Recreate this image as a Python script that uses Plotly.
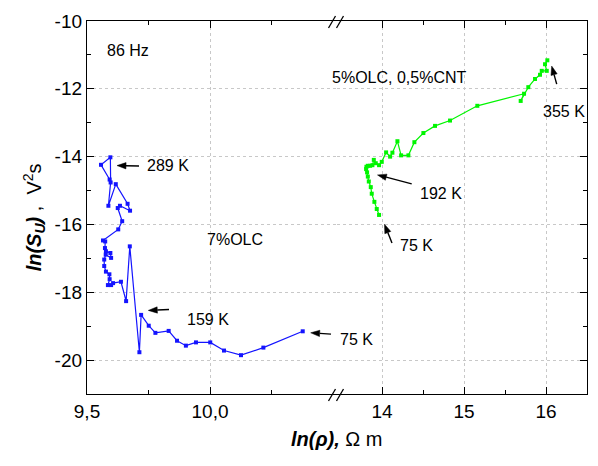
import math
import plotly.graph_objects as go

# ---- data: 7%OLC (blue, left segment of broken x axis) ----
blue_x = [9.592, 9.557, 9.595, 9.596, 9.587, 9.617, 9.665, 9.675, 9.634, 9.625,
          9.643, 9.627, 9.565, 9.574, 9.573, 9.577, 9.595, 9.598, 9.576, 9.570,
          9.570, 9.577, 9.591, 9.592, 9.585, 9.598, 9.606, 9.638, 9.659, 9.674,
          9.713, 9.720, 9.751, 9.778, 9.832, 9.866, 9.902, 9.943, 10.001, 10.057,
          10.126, 10.217, 10.377]
blue_y = [-14.675, -14.241, -14.020, -14.762, -15.449, -14.812, -15.391, -15.594, -15.449, -15.516,
          -15.904, -16.145, -16.472, -16.501, -16.696, -16.791, -16.841, -16.986, -16.890, -17.035,
          -17.226, -17.391, -17.470, -17.614, -17.788, -17.788, -17.730, -17.690, -18.261, -16.646,
          -19.768, -18.667, -18.986, -19.197, -19.139, -19.429, -19.574, -19.478, -19.478, -19.719,
          -19.855, -19.632, -19.151]

# ---- data: 5%OLC, 0,5%CNT (green, right segment) ----
green_x = [13.963, 13.935, 13.906, 13.874, 13.862, 13.838, 13.826, 13.817, 13.805, 13.809,
           13.826, 13.854, 13.882, 13.899, 13.923, 13.963, 13.996, 14.049, 14.098, 14.126,
           14.187, 14.232, 14.321, 14.394, 14.504, 14.646, 14.829, 15.162, 15.732, 15.691,
           15.784, 15.866, 15.927, 15.948, 16.009, 15.988, 16.016]
green_y = [-15.719, -15.545, -15.333, -15.093, -14.899, -14.733, -14.588, -14.464, -14.368, -14.299,
           -14.270, -14.270, -14.252, -14.096, -14.194, -14.252, -14.154, -13.875, -14.000, -13.884,
           -13.545, -13.962, -13.962, -13.574, -13.304, -13.093, -12.936, -12.501, -12.145, -12.357,
           -11.951, -11.710, -11.586, -11.470, -11.470, -11.275, -11.159]

y_tickvals = [-10, -12, -14, -16, -18, -20]
y_ticktext = ["-10", "-12", "-14", "-16", "-18", "-20"]
y_minor = [-11, -13, -15, -17, -19]
x1_tickvals = [9.5, 10.0]
x1_ticktext = ["9,5", "10,0"]
x1_minor = [9.75, 10.25]
x2_tickvals = [14, 15, 16]
x2_ticktext = ["14", "15", "16"]
x2_minor = [14.5, 15.5]

FONT = "Arial, 'Liberation Sans', sans-serif"
W, H = 598, 466
L, R, T, B = 87, 11, 16, 72
PW, PH = W - L - R, H - T - B


def px(x):
    return (x - L) / PW


def py(y):
    return (H - B - y) / PH


fig = go.Figure()
fig.add_trace(go.Scatter(x=blue_x, y=blue_y, xaxis="x", yaxis="y", mode="lines+markers",
                         line=dict(color="rgb(20,20,255)", width=1.2),
                         marker=dict(symbol="square", size=4, color="rgb(20,20,255)"),
                         showlegend=False))
fig.add_trace(go.Scatter(x=green_x, y=green_y, xaxis="x2", yaxis="y2", mode="lines+markers",
                         line=dict(color="rgb(0,245,0)", width=1.2),
                         marker=dict(symbol="square", size=4, color="rgb(0,245,0)"),
                         showlegend=False))

common_ax = dict(showline=True, linecolor="black", linewidth=1.3, ticks="inside", ticklen=7,
                 tickcolor="black", tickwidth=1.2, showgrid=True, gridcolor="#c8c8c8",
                 griddash="dot", gridwidth=1, zeroline=False,
                 tickfont=dict(family=FONT, size=19, color="black"))

fig.update_layout(
    width=W, height=H,
    margin=dict(l=L, r=R, t=T, b=B),
    plot_bgcolor="white", paper_bgcolor="white",
    xaxis=dict(domain=[0, 0.5], range=[9.5, 10.5163], anchor="y", mirror="ticks",
               tickmode="array", tickvals=x1_tickvals, ticktext=x1_ticktext,
               minor=dict(tickmode="array", tickvals=x1_minor, ticks="inside", ticklen=4,
                          tickcolor="black", showgrid=False),
               **common_ax),
    xaxis2=dict(domain=[0.5, 1], range=[13.45, 16.5], anchor="y2", mirror="ticks",
                tickmode="array", tickvals=x2_tickvals, ticktext=x2_ticktext,
                minor=dict(tickmode="array", tickvals=x2_minor, ticks="inside", ticklen=4,
                           tickcolor="black", showgrid=False),
                **common_ax),
    yaxis=dict(domain=[0, 1], range=[-21, -10], anchor="x", mirror=False,
               tickmode="array", tickvals=y_tickvals, ticktext=y_ticktext,
               minor=dict(tickmode="array", tickvals=y_minor, ticks="inside", ticklen=4,
                          tickcolor="black", showgrid=False),
               **common_ax),
    yaxis2=dict(domain=[0, 1], range=[-21, -10], anchor="x2", side="right", mirror=False,
                tickmode="array", tickvals=y_tickvals, showticklabels=False,
                minor=dict(tickmode="array", tickvals=y_minor, ticks="inside", ticklen=4,
                           tickcolor="black", showgrid=False),
                **common_ax),
)

# axis break marks "//" at bottom and top
for yanc in (0, 1):
    for (x0, y0, x1, y1) in [(-8.5, -7, -1.5, 5), (-0.5, -7, 6.5, 5)]:
        fig.add_shape(type="line", xref="paper", yref="paper", xsizemode="pixel",
                      ysizemode="pixel", xanchor=0.5, yanchor=yanc,
                      x0=x0, y0=y0, x1=x1, y1=y1, line=dict(color="black", width=1.3))

# text labels
texts = [
    ("86 Hz", 128, 46),
    ("5%OLC, 0,5%CNT", 399, 73),
    ("355 K", 564, 108),
    ("289 K", 168, 162),
    ("192 K", 441, 191),
    ("75 K", 416, 244),
    ("7%OLC", 235, 237),
    ("159 K", 208, 318),
    ("75 K", 356, 339),
]
for t, x, y in texts:
    fig.add_annotation(text=t, x=px(x), y=py(y), xref="paper", yref="paper",
                       showarrow=False, xanchor="center", yanchor="middle",
                       font=dict(family=FONT, size=16, color="black"))

# arrows drawn as shapes: (head_x, head_y, tail_x, tail_y) in pixels
arrows = [
    (117, 162.5, 139, 163),
    (377.5, 172, 411.7, 181),
    (384.5, 222, 392, 241),
    (148.3, 309.3, 169, 308.3),
    (310.7, 332, 331, 333.3),
    (551.7, 61.7, 556.7, 80),
]
HL, HW = 9.0, 3.2
for hx, hy, tx, ty in arrows:
    dx, dy = tx - hx, ty - hy
    d = math.hypot(dx, dy)
    ux, uy = dx / d, dy / d
    bx, by = hx + ux * HL, hy + uy * HL
    nx, ny = -uy, ux
    fig.add_shape(type="line", xref="paper", yref="paper",
                  x0=px(bx), y0=py(by), x1=px(tx), y1=py(ty),
                  line=dict(color="black", width=1.4))
    pts = [(hx, hy), (bx + nx * HW, by + ny * HW), (bx - nx * HW, by - ny * HW)]
    path = "M {} {} L {} {} L {} {} Z".format(*[v for p in pts for v in (px(p[0]), py(p[1]))])
    fig.add_shape(type="path", xref="paper", yref="paper", path=path,
                  fillcolor="black", line=dict(color="black", width=0.5))

# axis titles
fig.add_annotation(text="<b><i>ln(ρ),</i></b> Ω m", x=px(337), y=py(440), xref="paper",
                   yref="paper", showarrow=False, xanchor="center", yanchor="middle",
                   font=dict(family=FONT, size=20, color="black"))
fig.add_annotation(text="<b><i>ln(S<sub>U</sub>)</i></b> ,  V<sup>2</sup>s", x=px(34),
                   y=py(215), xref="paper", yref="paper", showarrow=False, textangle=-90,
                   xanchor="center", yanchor="middle",
                   font=dict(family=FONT, size=20, color="black"))

fig.write_html("out.html")
